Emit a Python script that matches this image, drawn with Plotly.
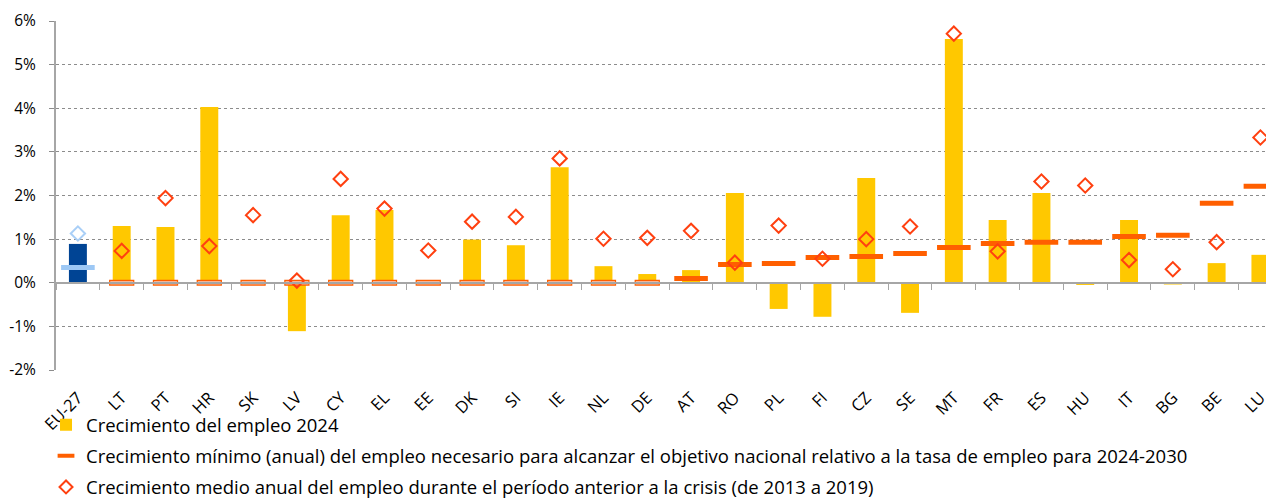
import plotly.graph_objects as go

countries = ["EU-27", "LT", "PT", "HR", "SK", "LV", "CY", "EL", "EE", "DK", "SI", "IE", "NL", "DE",
             "AT", "RO", "PL", "FI", "CZ", "SE", "MT", "FR", "ES", "HU", "IT", "BG", "BE", "LU"]
growth_2024 = [0.89, 1.30, 1.28, 4.03, 0.0, -1.11, 1.55, 1.67, -0.02, 0.99, 0.86, 2.65, 0.38, 0.20,
               0.29, 2.06, -0.60, -0.78, 2.40, -0.69, 5.59, 1.44, 2.06, -0.05, 1.44, -0.04, 0.45, 0.64]
min_required = [0.35, 0, 0, 0, 0, 0, 0, 0, 0, 0, 0, 0, 0, 0,
                0.10, 0.42, 0.44, 0.58, 0.60, 0.67, 0.81, 0.90, 0.93, 0.93, 1.06, 1.09, 1.82, 2.21]
precrisis_avg = [1.13, 0.73, 1.94, 0.84, 1.55, 0.05, 2.38, 1.70, 0.74, 1.40, 1.51, 2.85, 1.01, 1.03,
                 1.19, 0.46, 1.31, 0.55, 1.00, 1.29, 5.71, 0.72, 2.32, 2.23, 0.52, 0.31, 0.93, 3.33]
y_ticks = [-2, -1, 0, 1, 2, 3, 4, 5, 6]
y_labels = ["-2%", "-1%", "0%", "1%", "2%", "3%", "4%", "5%", "6%"]
name_bar = "Crecimiento del empleo 2024"
name_tgt = ("Crecimiento mínimo (anual) del empleo necesario para alcanzar el objetivo nacional "
            "relativo a la tasa de empleo para 2024-2030")
name_dia = "Crecimiento medio anual del empleo durante el período anterior a la crisis (de 2013 a 2019)"

YELLOW = "#FFC800"
DARKBLUE = "#004494"
LIGHTBLUE = "#9DC8F5"
LIGHTBLUE2 = "#A9CFF7"
ORANGE = "#FF5F00"
RED = "#FF4010"
FONT = "Open Sans"

is_eu = [c == "EU-27" for c in countries]
not_eu = [not m for m in is_eu]


def only(vals, mask):
    return [v if m else None for v, m in zip(vals, mask)]


fig = go.Figure()
# bars
fig.add_trace(go.Bar(x=countries, y=only(growth_2024, not_eu), width=0.41,
                     marker=dict(color=YELLOW, line=dict(width=0)), showlegend=False))
fig.add_trace(go.Bar(x=countries, y=only(growth_2024, is_eu), width=0.41,
                     marker=dict(color=DARKBLUE, line=dict(width=0)), showlegend=False))
# zero targets (outlined boxes)
zero_h = 0.107
fig.add_trace(go.Bar(
    x=countries, y=[zero_h if v == 0 else None for v in min_required],
    base=[-zero_h / 2 if v == 0 else None for v in min_required], width=0.55,
    marker=dict(color="#F8B393", line=dict(color=ORANGE, width=1.2)), showlegend=False))
# non-zero targets
tgt_nz = [v if v != 0 else None for v in min_required]
fig.add_trace(go.Scatter(x=countries, y=only(tgt_nz, not_eu), mode="markers",
                         marker=dict(symbol="line-ew", size=24, line=dict(color=ORANGE, width=5)),
                         showlegend=False))
fig.add_trace(go.Scatter(x=countries, y=only(tgt_nz, is_eu), mode="markers",
                         marker=dict(symbol="line-ew", size=24, line=dict(color=LIGHTBLUE, width=5)),
                         showlegend=False))
# pre-crisis diamonds
fig.add_trace(go.Scatter(x=countries, y=only(precrisis_avg, not_eu), mode="markers",
                         marker=dict(symbol="diamond-open", size=11, color=RED, line=dict(color=RED, width=2)),
                         showlegend=False))
fig.add_trace(go.Scatter(x=countries, y=only(precrisis_avg, is_eu), mode="markers",
                         marker=dict(symbol="diamond-open", size=11, color=LIGHTBLUE2,
                                     line=dict(color=LIGHTBLUE2, width=2)),
                         showlegend=False))
# legend entries
fig.add_trace(go.Scatter(x=[countries[0]], y=[None], mode="markers", name=name_bar, legendgroup="a",
                         marker=dict(symbol="square", size=12, color=YELLOW)))
fig.add_trace(go.Scatter(x=[countries[0]], y=[None], mode="markers", name=name_tgt, legendgroup="b",
                         marker=dict(symbol="line-ew", size=12, line=dict(color=ORANGE, width=4))))
fig.add_trace(go.Scatter(x=[countries[0]], y=[None], mode="markers", name=name_dia, legendgroup="c",
                         marker=dict(symbol="diamond-open", size=10, color=RED, line=dict(color=RED, width=2))))
# axis carrying the zero line with category boundary ticks
fig.add_trace(go.Scatter(x=countries, y=[None] * len(countries), xaxis="x2", showlegend=False,
                         mode="markers", hoverinfo="skip"))

x_range = [-0.5, 27.31]
fig.update_layout(
    template="none",
    width=1266, height=493,
    margin=dict(l=48, r=0, t=13, b=131, autoexpand=False),
    paper_bgcolor="white", plot_bgcolor="white",
    barmode="overlay",
    font=dict(family=FONT, size=15, color="#000000"),
    xaxis=dict(type="category", categoryorder="array", categoryarray=countries, range=x_range,
               tickangle=-45, showgrid=False, showline=False, ticks="", zeroline=False,
               automargin=False, ticklabelstandoff=14, tickfont=dict(size=16.5)),
    xaxis2=dict(type="category", categoryorder="array", categoryarray=countries, range=x_range,
                overlaying="x", anchor="free", position=0.25, showticklabels=False,
                showline=True, linecolor="#A6A6A6", linewidth=2, ticks="outside", tickson="boundaries",
                ticklen=6, tickcolor="#A6A6A6", tickwidth=1, showgrid=False, zeroline=False,
                automargin=False),
    yaxis=dict(range=[-2, 6], tickvals=y_ticks, ticktext=y_labels, showgrid=True,
               gridcolor="#8C8C8C", griddash="dot", gridwidth=1, zeroline=False,
               showline=True, linecolor="#A6A6A6", linewidth=2, ticks="outside", ticklen=5,
               tickcolor="#8C8C8C", automargin=False, ticklabelstandoff=10, tickfont=dict(size=15.5)),
    legend=dict(x=-0.0082, xanchor="left", y=-0.104, yanchor="top", orientation="v",
                font=dict(size=18.5), tracegroupgap=4, bgcolor="rgba(0,0,0,0)", itemwidth=30),
    showlegend=True,
)
fig.write_html("out.html")
